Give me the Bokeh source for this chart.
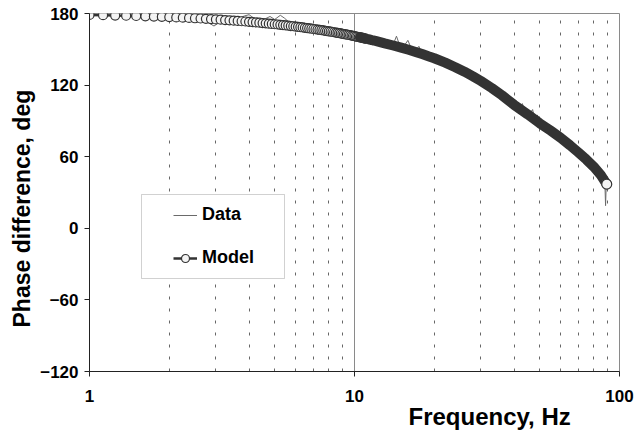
import numpy as np
from bokeh.plotting import figure
from bokeh.models import (FixedTicker, CustomJSTickFormatter, Legend, LegendItem,
                          BoxAnnotation, Title, Range1d)
from bokeh.embed import file_html
from bokeh.resources import INLINE

# ---- data ----
MODEL_FREQ = [1.0, 1.125, 1.25, 1.375, 1.5, 1.625, 1.75, 1.875, 2.0, 2.125, 2.25, 2.375,
              2.5, 2.625, 2.75, 2.875, 3.0, 3.125, 3.25, 3.375, 3.5, 3.625, 3.75, 3.875,
              4.0, 4.125, 4.25, 4.375, 4.5, 4.625, 4.75, 4.875, 5.0, 5.125, 5.25, 5.375,
              5.5, 5.625, 5.75, 5.875, 6.0, 6.125, 6.25, 6.375, 6.5, 6.625, 6.75, 6.875,
              7.0, 7.125, 7.25, 7.375, 7.5, 7.625, 7.75, 7.875, 8.0, 8.125, 8.25, 8.375,
              8.5, 8.625, 8.75, 8.875, 9.0, 9.125, 9.25, 9.375, 9.5, 9.625, 9.75, 9.875,
              10.0, 10.125, 10.25, 10.375, 10.5, 10.625, 10.75, 10.875, 11.0, 11.125, 11.25,
              11.375, 11.5, 11.625, 11.75, 11.875, 12.0,
              13, 14, 15, 16, 17, 18, 19, 20, 22, 24, 26, 28, 30, 33, 36, 40, 45, 50,
              55, 60, 65, 70, 75, 80, 85, 89.5]
MODEL_PHASE = [178.8, 178.6, 178.3, 178.1, 177.9, 177.6, 177.4, 177.2, 177.0, 176.7, 176.5, 176.3,
               176.0, 175.8, 175.5, 175.3, 175.0, 174.8, 174.5, 174.3, 174.0, 173.8, 173.5, 173.3,
               173.0, 172.8, 172.5, 172.3, 172.0, 171.8, 171.5, 171.3, 171.0, 170.8, 170.5, 170.3,
               170.0, 169.8, 169.5, 169.3, 169.0, 168.8, 168.5, 168.3, 168.0, 167.8, 167.5, 167.3,
               167.0, 166.8, 166.5, 166.3, 166.0, 165.8, 165.5, 165.3, 165.0, 164.8, 164.5, 164.3,
               164.0, 163.8, 163.5, 163.3, 163.0, 162.8, 162.5, 162.3, 162.0, 161.8, 161.5, 161.3,
               161.0, 160.7, 160.5, 160.2, 160.0, 159.7, 159.5, 159.2, 159.0, 158.7, 158.5,
               158.2, 158.0, 157.7, 157.5, 157.2, 157.0,
               155.0, 153.2, 151.4, 149.6, 147.8, 146.0, 144.2, 142.5, 138.8, 135.0, 131.2, 127.3, 123.4,
               117.5, 111.5, 103.5, 95.5, 88.0, 81.8, 75.8, 69.6, 63.5, 57.6, 51.5, 44.6, 37.0]

DATA_FREQ = [1.0, 1.3, 1.6, 2.0, 2.3, 2.6, 2.8, 2.95, 3.1, 3.3, 3.6, 3.85, 4.0, 4.15, 4.4, 4.6,
             4.8, 5.0, 5.25, 5.45, 5.7, 6.0, 6.5, 7.0, 7.5, 8.0, 8.5, 9.0, 9.5, 10.0, 10.5, 11.0,
             11.5, 12.0, 12.5, 13.0, 13.5, 14.0, 14.4, 14.8, 15.3, 15.9, 16.4, 17.0, 17.5, 17.9,
             18.5, 19.5, 20.5, 22, 24, 26, 28, 30, 32, 34, 36, 38, 40, 42, 43, 44, 46, 47, 48, 49,
             50, 52, 54, 55, 57, 58, 60, 62, 64, 65, 66, 68, 70, 71, 73, 75, 76, 78, 80, 81, 83,
             85, 86, 87, 88, 88.6, 89.0, 89.5]
DATA_PHASE = [178.8, 178.3, 177.8, 177.0, 176.4, 175.5, 172.5, 169.5, 172.8, 174.5, 175.5, 178.0,
              179.0, 176.5, 174.0, 175.5, 177.5, 175.0, 178.5, 176.0, 172.0, 169.5, 168.5, 167.0,
              166.5, 165.5, 163.5, 163.5, 161.5, 161.0, 160.5, 159.5, 157.5, 157.5, 155.5, 156.0,
              153.0, 154.0, 161.0, 153.5, 152.0, 157.5, 150.5, 149.0, 152.5, 147.5, 147.0, 144.0,
              142.5, 139.5, 134.5, 131.5, 126.5, 124.0, 119.0, 116.5, 111.0, 108.0, 103.5, 101.0,
              104.5, 97.5, 96.5, 99.5, 90.5, 95.0, 88.0, 87.5, 82.0, 86.0, 78.0, 82.0, 76.0, 74.5,
              70.0, 73.0, 68.0, 67.5, 63.0, 66.0, 60.0, 58.0, 61.5, 53.0, 52.0, 55.0, 47.5, 45.0,
              48.5, 40.0, 40.5, 19.0, 33.0, 37.0]

X_TICKS = [1, 10, 100]
X_MINOR = [2, 3, 4, 5, 6, 7, 8, 9, 20, 30, 40, 50, 60, 70, 80, 90]
Y_TICKS = [-120, -60, 0, 60, 120, 180]

FONT = "Liberation Sans"

mf = np.array(MODEL_FREQ)
mp = np.array(MODEL_PHASE)
circ = mf <= 11
band = mf >= 10.5

p = figure(frame_width=530, frame_height=358, x_axis_type="log",
           x_range=Range1d(1, 100), y_range=Range1d(-120, 180),
           output_backend="svg", toolbar_location=None,
           min_border_left=89, min_border_right=16, min_border_top=13, min_border_bottom=59)
p.background_fill_color = "white"
p.border_fill_color = "white"
p.outline_line_color = "#8a8a8a"

xt = FixedTicker(ticks=X_TICKS, minor_ticks=X_MINOR)
p.xaxis.ticker = xt
p.xgrid.ticker = xt
p.xaxis.formatter = CustomJSTickFormatter(code="return tick.toFixed(0);")
p.yaxis.ticker = FixedTicker(ticks=Y_TICKS)

for ax in (p.xaxis, p.yaxis):
    ax.major_label_text_font = FONT
    ax.major_label_text_font_style = "bold"
    ax.major_label_text_font_size = "17px"
    ax.major_label_text_color = "black"
    ax.axis_line_color = "#222222"
    ax.major_tick_line_color = "#222222"
    ax.major_tick_out = 5
    ax.major_tick_in = 0
    ax.minor_tick_out = 0
    ax.minor_tick_in = 0
p.yaxis.major_label_standoff = 6
p.xaxis.major_label_standoff = 13

p.ygrid.grid_line_color = None
p.xgrid.grid_line_color = "#8a8a8a"
p.xgrid.grid_line_width = 1
p.xgrid.minor_grid_line_color = "#666666"
p.xgrid.minor_grid_line_dash = "3 9"
p.xgrid.minor_grid_line_width = 1

# axis titles
p.add_layout(Title(text="Frequency, Hz", align="left", offset=319, standoff=-7,
                   text_font=FONT, text_font_style="bold", text_font_size="24px",
                   text_color="black"), "below")
p.add_layout(Title(text="Phase difference, deg", align="left", offset=44, standoff=6,
                   text_font=FONT, text_font_style="bold", text_font_size="23px",
                   text_color="black"), "left")

# glyphs
r_data = p.line(DATA_FREQ, DATA_PHASE, line_color="#6a6a6a", line_width=1)
r_mline = p.line(mf, mp, line_color="#333333", line_width=2.5)
r_mcirc = p.scatter(mf[circ], mp[circ], size=9, marker="circle", fill_color="#f4f4f4",
                    line_color="#333333", line_width=1.2)
p.line(mf[band], mp[band], line_color="#333333", line_width=10, line_cap="round")
p.scatter(mf[-1:], mp[-1:], size=10, marker="circle", fill_color="#f4f4f4",
          line_color="#333333", line_width=1.2)

# legend frame and legend
p.add_layout(BoxAnnotation(left=52, right=195, bottom=93, top=177,
                           left_units="screen", right_units="screen",
                           top_units="screen", bottom_units="screen",
                           fill_color="white", fill_alpha=1.0,
                           line_color="#666666", line_width=1))
legend = Legend(items=[LegendItem(label="Data", renderers=[r_data]),
                       LegendItem(label="Model", renderers=[r_mline, r_mcirc])],
                location=(72, 91), padding=12, spacing=22, margin=0,
                glyph_width=24, glyph_height=20, label_height=20, label_standoff=5,
                label_text_font=FONT, label_text_font_style="bold",
                label_text_font_size="18px", label_text_color="black",
                border_line_alpha=0, background_fill_alpha=0)
p.add_layout(legend)

open("out.html", "w").write(file_html(p, INLINE))
